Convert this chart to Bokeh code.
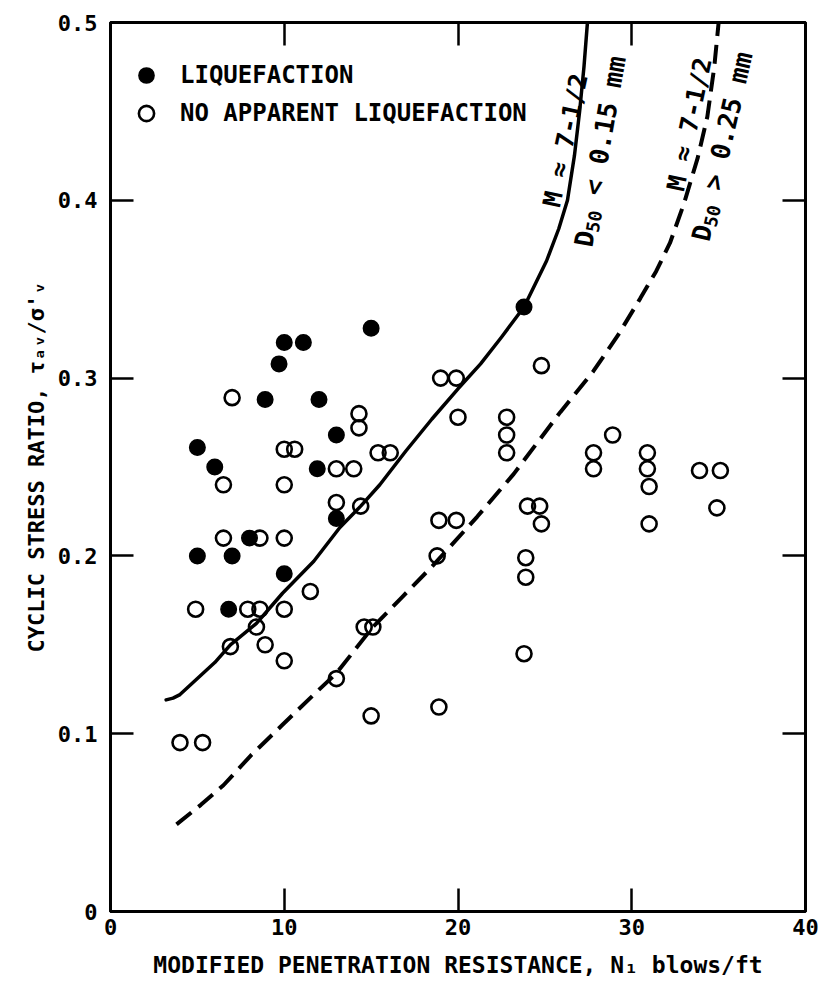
import math
from bokeh.plotting import figure
from bokeh.models import (Label, Legend, LegendItem, FixedTicker, LinearAxis,
                          Range1d, CustomJSTickFormatter)
from bokeh.embed import file_html
from bokeh.resources import INLINE

FONT = "DejaVu Sans Mono"

# ---------------- data ----------------
liq_n1 = [5.0, 5.0, 6.0, 6.8, 7.0, 8.0, 8.9, 9.7, 10.0, 10.0, 11.1, 11.9, 12.0, 13.0, 13.0, 15.0, 23.8]
liq_csr = [0.261, 0.200, 0.250, 0.170, 0.200, 0.210, 0.288, 0.308, 0.320, 0.190, 0.320, 0.249, 0.288, 0.268, 0.221, 0.328, 0.340]

no_liq_n1 = [4.0, 5.3, 4.9, 6.5, 6.5, 7.0, 6.9, 7.9, 8.6, 8.4, 8.9, 8.6, 10.0, 10.6, 10.0, 10.0, 10.0, 10.0,
             11.5, 13.0, 14.0, 13.0, 14.4, 14.3, 14.3, 15.4, 16.1, 13.0, 14.6, 15.1, 15.0, 18.9, 19.0, 19.9,
             20.0, 18.9, 19.9, 18.8, 22.8, 22.8, 22.8, 24.8, 24.0, 24.7, 24.8, 23.9, 23.9, 23.8, 27.8, 27.8,
             28.9, 30.9, 30.9, 31.0, 31.0, 33.9, 35.1, 34.9]
no_liq_csr = [0.095, 0.095, 0.170, 0.240, 0.210, 0.289, 0.149, 0.170, 0.170, 0.160, 0.150, 0.210, 0.260, 0.260,
              0.240, 0.210, 0.170, 0.141, 0.180, 0.249, 0.249, 0.230, 0.228, 0.280, 0.272, 0.258, 0.258, 0.131,
              0.160, 0.160, 0.110, 0.115, 0.300, 0.300, 0.278, 0.220, 0.220, 0.200, 0.278, 0.268, 0.258, 0.307,
              0.228, 0.228, 0.218, 0.199, 0.188, 0.145, 0.258, 0.249, 0.268, 0.258, 0.249, 0.239, 0.218, 0.248,
              0.248, 0.227]

# boundary curve, D50 < 0.15 mm (solid)
fine_n1 = [3.2, 3.6, 4.0, 5.0, 6.0, 6.9, 8.4, 9.9, 11.7, 13.2, 14.4, 15.5, 17.0, 18.5, 20.0, 21.3, 22.5,
           23.8, 25.1, 25.8, 26.3, 26.7, 27.0, 27.25, 27.45]
fine_csr = [0.119, 0.120, 0.122, 0.131, 0.140, 0.150, 0.162, 0.179, 0.197, 0.216, 0.228, 0.240, 0.259, 0.277,
            0.294, 0.308, 0.323, 0.340, 0.366, 0.384, 0.400, 0.425, 0.450, 0.475, 0.500]

# boundary curve, D50 > 0.25 mm (dashed)
coarse_n1 = [3.8, 5.2, 6.5, 8.1, 9.9, 11.7, 13.0, 15.1, 16.8, 18.5, 21.1, 23.2, 25.9, 27.8, 29.2, 30.5,
             31.4, 32.2, 33.0, 33.8, 34.35, 34.75, 35.0]
coarse_csr = [0.049, 0.060, 0.071, 0.088, 0.105, 0.122, 0.134, 0.160, 0.177, 0.194, 0.222, 0.246, 0.281,
              0.304, 0.324, 0.345, 0.360, 0.376, 0.398, 0.424, 0.447, 0.475, 0.500]

x_ticks = [0, 10, 20, 30, 40]
y_ticks = [0, 0.1, 0.2, 0.3, 0.4, 0.5]
x_inner_ticks = [10, 20, 30]
y_inner_ticks = [0.1, 0.2, 0.3, 0.4]

x_title = "MODIFIED PENETRATION RESISTANCE, N\u2081 blows/ft"
y_title = "CYCLIC STRESS RATIO, \u03c4\u2090\u1d65/\u03c3'\u1d65"

# ---------------- layout ----------------
W, H = 824, 988
BL, BR, BT, BB = 110, 19, 22, 77
FRAME_BOTTOM = H - BB

p = figure(width=W, height=H, x_range=Range1d(0, 40), y_range=Range1d(0, 0.5),
           output_backend="svg", toolbar_location=None,
           min_border_left=BL, min_border_right=BR, min_border_top=BT, min_border_bottom=BB,
           background_fill_color="white", border_fill_color="white")
p.grid.visible = False
p.outline_line_color = "black"
p.outline_line_width = 3


def style_axis(ax, ticks, show_labels, size="22px"):
    ax.ticker = FixedTicker(ticks=ticks)
    ax.axis_line_color = "black"
    ax.axis_line_width = 3
    ax.major_tick_in = 23
    ax.major_tick_out = 0
    ax.major_tick_line_width = 2.5
    ax.major_tick_line_color = "black"
    ax.minor_tick_line_color = None
    ax.major_label_text_font = FONT
    ax.major_label_text_font_style = "bold"
    ax.major_label_text_font_size = size
    ax.major_label_text_color = "black"
    ax.axis_label_text_font = FONT
    ax.axis_label_text_font_style = "bold"
    ax.axis_label_text_color = "black"
    if not show_labels:
        ax.formatter = CustomJSTickFormatter(code="return '';")


style_axis(p.xaxis[0], x_ticks, True, "22px")
p.xaxis[0].major_label_standoff = 7
p.xaxis[0].axis_label = x_title
p.xaxis[0].axis_label_text_font_size = "23px"
p.xaxis[0].axis_label_standoff = 14

style_axis(p.yaxis[0], y_ticks, True, "22px")
p.yaxis[0].major_label_standoff = 13
p.yaxis[0].formatter = CustomJSTickFormatter(code="return tick == 0 ? '0' : tick.toFixed(1);")
p.yaxis[0].axis_label = y_title
p.yaxis[0].axis_label_text_font_size = "22px"
p.yaxis[0].axis_label_standoff = 6

ax_top = LinearAxis()
style_axis(ax_top, x_inner_ticks, False)
p.add_layout(ax_top, "above")
ax_right = LinearAxis()
style_axis(ax_right, y_inner_ticks, False)
p.add_layout(ax_right, "right")

# ---------------- curves ----------------
p.line(fine_n1, fine_csr, line_color="black", line_width=3.5, line_cap="round", line_join="round")
p.line(coarse_n1, coarse_csr, line_color="black", line_width=4, line_dash="19 9")

# ---------------- points ----------------
r_no = p.scatter(no_liq_n1, no_liq_csr, marker="circle", size=15, fill_color="white",
                 fill_alpha=0, line_color="black", line_width=2.6)
r_liq = p.scatter(liq_n1, liq_csr, marker="circle", size=15.5, fill_color="black",
                  line_color="black", line_width=1.5)

legend = Legend(items=[LegendItem(label="LIQUEFACTION", renderers=[r_liq]),
                       LegendItem(label="NO APPARENT LIQUEFACTION", renderers=[r_no])],
                location=(6, 779), padding=6, margin=0, spacing=0,
                glyph_width=60, glyph_height=38, label_standoff=4,
                label_text_font=FONT, label_text_font_style="bold",
                label_text_font_size="24px", label_text_color="black",
                border_line_color=None, background_fill_alpha=0)
p.add_layout(legend)


# ---------------- rotated curve annotations (inside the frame) ----------------
def put(pieces, x0, y0, ang):
    th = math.radians(ang)
    ux, uy = math.cos(th), -math.sin(th)
    nx, ny = -math.sin(th), -math.cos(th)
    adv = 0.0
    for text, size, lift, gap in pieces:
        adv += gap
        cx = x0 + adv * ux + lift * nx
        cy = y0 + adv * uy + lift * ny
        p.add_layout(Label(x=cx - BL, y=FRAME_BOTTOM - cy, x_units="screen", y_units="screen",
                           text=text, angle=ang, angle_units="deg",
                           text_font=FONT, text_font_style="bold", text_font_size=f"{size}px",
                           text_align="left", text_baseline="alphabetic", text_color="black"))
        adv += len(text) * 0.602 * size


put([("M \u2248 7-1/2", 25, 0, 0)], 551, 206, 78)
put([("D", 26, 0, 0), ("50", 18, -6, 0), ("< 0.15 mm", 26, 0, 15)], 583, 246, 80)
put([("M \u2248 7-1/2", 25, 0, 0)], 675, 190, 78)
put([("D", 26, 0, 0), ("50", 18, -6, 0), ("> 0.25 mm", 26, 0, 15)], 700, 240, 77)

open("out.html", "w").write(file_html(p, INLINE))
